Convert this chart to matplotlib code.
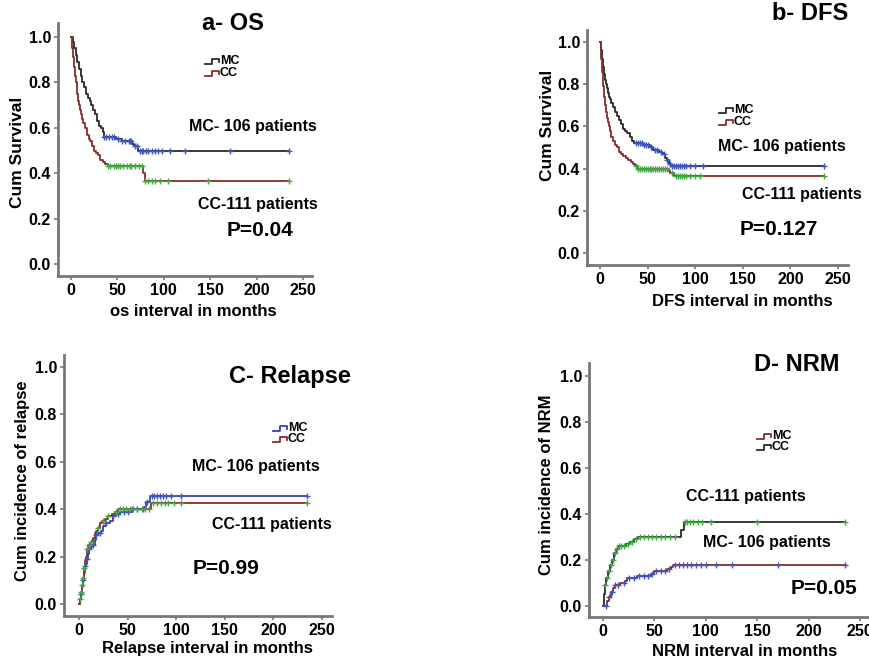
import numpy as np
import matplotlib
matplotlib.use("Agg")
import matplotlib.pyplot as plt
from matplotlib.lines import Line2D

plt.rcParams['font.family'] = ['Liberation Sans', 'DejaVu Sans']
plt.rcParams['font.weight'] = 'bold'

W, H = 870, 661

# ---------------- data ----------------
x_ticks = [0, 50, 100, 150, 200, 250]
y_ticks = [0.0, 0.2, 0.4, 0.6, 0.8, 1.0]
end_time = 235

# a - OS
os_mc_t = [0, 2, 3, 5, 7, 9, 11, 12, 14, 16, 18, 20, 22, 24, 26, 28, 30, 32, 34, 36, 48, 55, 66, 68, 72]
os_mc_v = [1.0, 0.98, 0.95, 0.92, 0.89, 0.86, 0.83, 0.80, 0.78, 0.75, 0.73, 0.72, 0.70, 0.68, 0.66, 0.63,
           0.61, 0.60, 0.58, 0.56, 0.55, 0.54, 0.53, 0.52, 0.50]
os_mc_cens = [36, 38, 41, 44, 46, 51, 55, 58, 62, 64, 65, 69, 71, 74, 76, 78, 81, 83, 87, 91, 94, 98,
              107, 123, 171, 235]
os_cc_t = [0, 1, 2, 3, 4, 5, 6, 7, 8, 9, 10, 11, 12, 13, 15, 17, 19, 21, 23, 25, 27, 29, 31, 34, 37, 40, 78, 80]
os_cc_v = [1.0, 0.95, 0.91, 0.87, 0.83, 0.80, 0.78, 0.75, 0.72, 0.70, 0.68, 0.66, 0.64, 0.62, 0.60, 0.57,
           0.55, 0.54, 0.52, 0.50, 0.49, 0.48, 0.46, 0.45, 0.44, 0.43, 0.40, 0.365]
os_cc_cens = [40, 42, 46, 49, 51, 53, 56, 60, 64, 65, 69, 73, 76, 80, 83, 87, 91, 96, 105, 148, 235]

# b - DFS
dfs_mc_t = [0, 1, 2, 3, 4, 5, 6, 7, 8, 9, 10, 12, 14, 16, 18, 20, 22, 24, 26, 28, 31, 34, 36, 45, 52, 56,
            62, 65, 68, 70, 72, 75]
dfs_mc_v = [1.0, 0.96, 0.92, 0.88, 0.85, 0.82, 0.80, 0.78, 0.76, 0.74, 0.73, 0.71, 0.69, 0.67, 0.65, 0.63,
            0.61, 0.59, 0.58, 0.57, 0.55, 0.53, 0.52, 0.51, 0.50, 0.49, 0.48, 0.47, 0.45, 0.44, 0.42, 0.41]
dfs_mc_cens = [38, 40, 42, 44, 46, 48, 50, 54, 58, 60, 64, 67, 70, 74, 76, 78, 80, 82, 84, 86, 88, 90,
               95, 100, 108, 235]
dfs_cc_t = [0, 1, 2, 3, 4, 5, 6, 7, 8, 9, 10, 11, 12, 14, 16, 18, 20, 22, 24, 27, 29, 32, 35, 37, 40,
            72, 74, 78]
dfs_cc_v = [1.0, 0.92, 0.86, 0.79, 0.74, 0.70, 0.67, 0.64, 0.62, 0.60, 0.58, 0.56, 0.55, 0.53, 0.51,
            0.50, 0.48, 0.47, 0.46, 0.45, 0.44, 0.43, 0.42, 0.41, 0.40, 0.39, 0.38, 0.365]
dfs_cc_cens = [38, 40, 42, 44, 46, 48, 50, 52, 54, 56, 58, 60, 62, 64, 66, 68, 70, 76, 80, 82, 84, 86,
               88, 90, 95, 100, 105, 235]

# C - Relapse
rel_mc_t = [0, 1, 2, 3, 4, 5, 6, 7, 8, 9, 10, 12, 14, 16, 18, 20, 23, 25, 28, 32, 35, 38, 42, 55, 67, 69, 73]
rel_mc_v = [0.0, 0.02, 0.04, 0.07, 0.10, 0.13, 0.16, 0.17, 0.19, 0.21, 0.23, 0.24, 0.25, 0.27, 0.29,
            0.30, 0.31, 0.33, 0.34, 0.35, 0.37, 0.38, 0.39, 0.40, 0.41, 0.43, 0.455]
rel_mc_cens = [2, 4, 6, 8, 10, 14, 18, 22, 28, 35, 40, 46, 50, 55, 60, 66, 70, 75, 77, 80, 83, 86, 90,
               95, 105, 235]
rel_cc_t = [0, 1, 2, 3, 4, 5, 6, 7, 8, 9, 12, 14, 16, 18, 20, 22, 24, 27, 30, 34, 37, 40, 74]
rel_cc_v = [0.0, 0.02, 0.05, 0.08, 0.11, 0.15, 0.18, 0.20, 0.23, 0.25, 0.26, 0.28, 0.30, 0.31, 0.32,
            0.34, 0.35, 0.36, 0.37, 0.38, 0.39, 0.40, 0.425]
rel_cc_cens = [1, 2, 3, 4, 5, 8, 10, 12, 20, 25, 30, 38, 42, 45, 48, 52, 56, 60, 65, 68, 72, 76, 80,
               84, 88, 92, 98, 105, 235]

# D - NRM
nrm_cc_t = [0, 1, 2, 3, 5, 7, 9, 11, 13, 15, 22, 26, 30, 34, 76, 79]
nrm_cc_v = [0.0, 0.05, 0.09, 0.12, 0.15, 0.18, 0.20, 0.23, 0.25, 0.26, 0.27, 0.28, 0.29, 0.30, 0.33, 0.365]
nrm_cc_cens = [2, 4, 6, 8, 10, 12, 14, 16, 18, 20, 24, 28, 32, 36, 40, 44, 48, 52, 56, 60, 65, 70, 80,
               82, 85, 88, 92, 96, 105, 150, 235]
nrm_mc_t = [0, 4, 6, 8, 10, 12, 17, 21, 23, 33, 47, 50, 62, 66, 68]
nrm_mc_v = [0.0, 0.02, 0.04, 0.06, 0.08, 0.09, 0.10, 0.11, 0.12, 0.13, 0.14, 0.15, 0.16, 0.17, 0.18]
nrm_mc_cens = [3, 6, 9, 12, 15, 20, 25, 30, 35, 40, 44, 48, 52, 56, 60, 64, 70, 74, 78, 82, 86, 90, 95,
               100, 110, 125, 170, 235]

# ---------------- styling ----------------
BLACK = '#2a2a2a'
DRED = '#8a2b2b'
BLUE = '#3d3fa8'
MBLUE = '#3f55c0'
MGREEN = '#3faa3f'
SPINE = '#777777'


def px(x, y):
    return x / W, 1 - y / H


fig = plt.figure(figsize=(W / 100, H / 100), dpi=100)


def make_axes(l, r, t, b, xlim, ylim):
    ax = fig.add_axes([l / W, 1 - b / H, (r - l) / W, (b - t) / H])
    ax.set_xlim(*xlim)
    ax.set_ylim(*ylim)
    for s in ['top', 'right']:
        ax.spines[s].set_visible(False)
    for s in ['left', 'bottom']:
        ax.spines[s].set_color(SPINE)
        ax.spines[s].set_linewidth(2)
    ax.set_xticks(x_ticks)
    ax.set_yticks(y_ticks)
    ax.set_xticklabels([str(v) for v in x_ticks])
    ax.set_yticklabels(['%.1f' % v for v in y_ticks])
    ax.tick_params(direction='out', length=3, width=1.2, color=SPINE, labelsize=11.5, pad=2)
    for lab in ax.get_xticklabels() + ax.get_yticklabels():
        lab.set_fontweight('bold')
    ax.patch.set_alpha(0)
    return ax


def step_lookup(t, v, c):
    idx = np.searchsorted(np.asarray(t), np.asarray(c), side='right') - 1
    return np.asarray(v)[idx]


def km(ax, t, v, cens, lc, mc):
    tt = list(t) + [end_time]
    vv = list(v) + [v[-1]]
    ax.step(tt, vv, where='post', color=lc, lw=1.3, zorder=2)
    ax.plot(cens, step_lookup(t, v, cens), ls='none', marker='+', ms=4, mew=1.0, color=mc, zorder=3)


def legend_icon(x, y, color):
    xs = [x, x + 7, x + 7, x + 14, x + 14]
    ys = [y + 2.5, y + 2.5, y - 2.5, y - 2.5, y + 1]
    fx = [a / W for a in xs]
    fy = [1 - b / H for b in ys]
    fig.add_artist(Line2D(fx, fy, color=color, lw=1.3))


def legend(x, y1, y2, c1, c2):
    legend_icon(x, y1, c1)
    legend_icon(x, y2, c2)
    fig.text(*px(x + 15, y1), 'MC', fontsize=9, fontweight='bold', va='center', ha='left')
    fig.text(*px(x + 15, y2), 'CC', fontsize=9, fontweight='bold', va='center', ha='left')


def txt(x, y, s, size=10.5, **kw):
    fig.text(*px(x, y), s, fontsize=size, fontweight='bold', ha='center', va='center', **kw)


PAT = 11.5
TTL = 17

# ---------------- panel a ----------------
axa = make_axes(58, 312, 23, 276, (-14.0, 259.7), (-0.053, 1.062))
km(axa, os_mc_t, os_mc_v, os_mc_cens, BLACK, MBLUE)
km(axa, os_cc_t, os_cc_v, os_cc_cens, DRED, MGREEN)
txt(233, 23, 'a- OS', TTL)
legend(205, 61, 73, BLACK, DRED)
txt(253, 127, 'MC- 106 patients', PAT)
txt(258, 204, 'CC-111 patients', PAT)
txt(260, 231, 'P=0.04', 15)
txt(18, 152, 'Cum Survival', 12.5, rotation=90)
txt(193, 312, 'os interval in months', 12)

# ---------------- panel b ----------------
axb = make_axes(587, 848, 30, 265, (-13.7, 260.5), (-0.057, 1.057))
km(axb, dfs_mc_t, dfs_mc_v, dfs_mc_cens, BLACK, MBLUE)
km(axb, dfs_cc_t, dfs_cc_v, dfs_cc_cens, DRED, MGREEN)
txt(810, 14, 'b- DFS', TTL)
legend(719, 110, 122, BLACK, DRED)
txt(782, 146, 'MC- 106 patients', PAT)
txt(802, 194, 'CC-111 patients', PAT)
txt(779, 229, 'P=0.127', 15)
txt(548, 125, 'Cum Survival', 12.5, rotation=90)
txt(742, 301, 'DFS interval in months', 12)

# ---------------- panel c ----------------
axc = make_axes(64, 332, 355, 616, (-15.4, 260.3), (-0.051, 1.051))
km(axc, rel_mc_t, rel_mc_v, rel_mc_cens, BLUE, MBLUE)
km(axc, rel_cc_t, rel_cc_v, rel_cc_cens, DRED, MGREEN)
txt(290, 376, 'C- Relapse', TTL)
legend(273, 428, 439, BLUE, DRED)
txt(256, 466, 'MC- 106 patients', PAT)
txt(272, 524, 'CC-111 patients', PAT)
txt(226, 569, 'P=0.99', 15)
txt(23, 481, 'Cum incidence of relapse', 12, rotation=90)
txt(207, 648, 'Relapse interval in months', 12)

# ---------------- panel d ----------------
axd = make_axes(589, 870, 363, 617, (-13.6, 259.7), (-0.048, 1.057))
km(axd, nrm_cc_t, nrm_cc_v, nrm_cc_cens, BLACK, MGREEN)
km(axd, nrm_mc_t, nrm_mc_v, nrm_mc_cens, DRED, MBLUE)
txt(797, 364, 'D- NRM', TTL)
legend(757, 436, 447, DRED, BLACK)
txt(746, 497, 'CC-111 patients', PAT)
txt(767, 542, 'MC- 106 patients', PAT)
txt(824, 589, 'P=0.05', 15)
txt(547, 485, 'Cum incidence of NRM', 12, rotation=90)
txt(745, 652, 'NRM interval in months', 12)

fig.savefig('out.png', dpi=100)
